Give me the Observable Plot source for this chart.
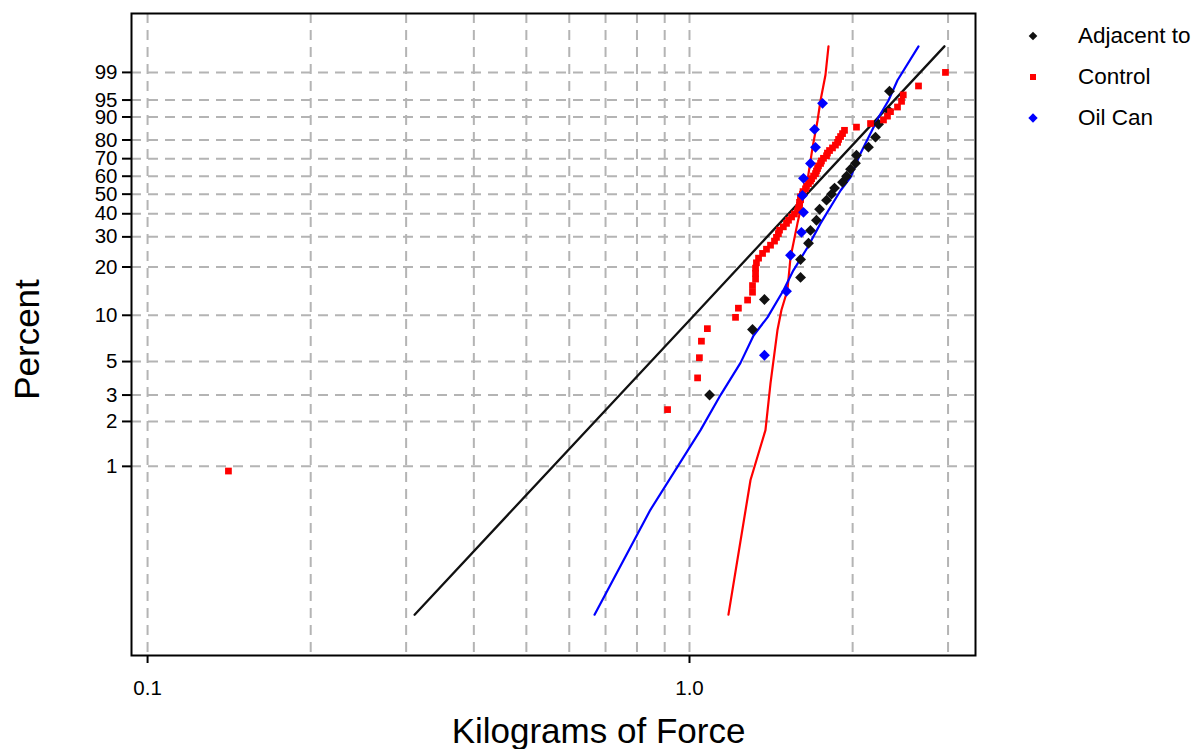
<!DOCTYPE html>
<html>
<head>
<meta charset="utf-8">
<script src="https://cdn.jsdelivr.net/npm/d3@7"></script>
<script src="https://cdn.jsdelivr.net/npm/@observablehq/plot@0.6"></script>
<style>
  html, body { margin: 0; padding: 0; background: #fff; }
  #wrap { position: relative; width: 1196px; height: 749px; font-family: "Liberation Sans", Arial, sans-serif; }
  #legend { position: absolute; left: 1022px; top: 15px; }
  .item { display: flex; align-items: center; height: 41px; font-size: 22.5px; color: #000; }
  .item svg { width: 22px; height: 22px; margin-right: 34px; flex: none; }
</style>
</head>
<body>
<div id="wrap"><div id="legend"></div></div>
<script>
// Weibull probability plot: breaking force (kg) of three groups with fitted lines.

// Adjacent to
const adjacentForce = [1.089, 1.307, 1.375, 1.603, 1.603, 1.658, 1.672, 1.715, 1.738, 1.790, 1.828,
  1.852, 1.916, 1.949, 1.982, 2.024, 2.033, 2.139, 2.204, 2.233, 2.329, 2.339];
const adjacentPct = [3.0, 8.1, 12.6, 17.3, 22.2, 27.6, 32.6, 37.0, 42.2, 46.8, 50.0,
  53.3, 56.6, 60.0, 64.0, 67.4, 71.9, 76.3, 81.4, 87.2, 92.2, 96.8];

// Control
const controlForce = [0.141, 0.911, 1.035, 1.043, 1.052, 1.079, 1.216, 1.231, 1.28, 1.307,
  1.307, 1.324, 1.324, 1.324, 1.329, 1.341, 1.364, 1.387, 1.411, 1.435,
  1.447, 1.459, 1.466, 1.490, 1.510, 1.523, 1.543, 1.562, 1.582, 1.589,
  1.596, 1.596, 1.603, 1.603, 1.616, 1.62, 1.637, 1.644, 1.658, 1.672,
  1.68, 1.694, 1.708, 1.715, 1.723, 1.73, 1.745, 1.752, 1.767, 1.790,
  1.797, 1.813, 1.836, 1.859, 1.876, 1.884, 1.900, 1.916, 1.932, 2.033,
  2.158, 2.28, 2.319, 2.349, 2.42, 2.462, 2.48, 2.646, 2.967];
const controlPct = [0.93, 2.4, 3.9, 5.3, 6.8, 8.2, 9.7, 11.1, 12.5, 14.0,
  15.4, 16.9, 18.3, 19.7, 21.2, 22.6, 24.1, 25.5, 26.9, 28.4,
  29.8, 31.3, 32.7, 34.1, 35.6, 37.0, 38.5, 39.9, 41.4, 42.8,
  44.2, 45.7, 47.1, 48.6, 50.0, 51.4, 52.9, 54.3, 55.8, 57.2,
  58.6, 60.1, 61.5, 63.0, 64.4, 65.9, 67.3, 68.7, 70.2, 71.6,
  73.1, 74.5, 75.9, 77.4, 78.8, 80.3, 81.7, 83.1, 84.6, 86.0,
  87.5, 88.9, 90.3, 91.8, 93.2, 94.7, 96.1, 97.6, 99.0];

// Oil Can
const oilCanForce = [1.375, 1.510, 1.536, 1.609, 1.623, 1.616, 1.623, 1.672, 1.708, 1.701, 1.760];
const oilCanPct = [5.5, 14.2, 23.5, 31.8, 40.7, 49.3, 58.8, 67.3, 76.2, 85.0, 94.2];

// Fitted lines
const adjacentFitForce = [0.311, 1.0, 2.954];
const adjacentFitPct = [0.1, 9.3, 99.9];
const controlFitForce = [1.180, 1.296, 1.381, 1.411, 1.453, 1.478, 1.516, 1.536, 1.582, 1.623, 1.651, 1.687, 1.723, 1.745, 1.782, 1.805];
const controlFitPct = [0.1, 0.81, 1.75, 3.6, 8.0, 10.8, 14.4, 22.8, 35.6, 48.3, 57.6, 76.2, 88.7, 94.9, 98.8, 99.9];
const oilCanFitForce = [0.668, 0.847, 1.048, 1.141, 1.242, 1.313, 1.393, 1.491, 1.555, 1.651, 1.745, 1.900, 1.982, 2.068, 2.233, 2.329, 2.420, 2.646];
const oilCanFitPct = [0.1, 0.51, 1.75, 3.0, 4.9, 7.4, 9.7, 14.4, 19.1, 26.1, 35.6, 52.0, 59.3, 72.9, 89.9, 94.9, 98.3, 99.9];

// Axes
const xDomain = [0.0934, 3.371];
const pctDomain = [0.053, 99.999];
const xGrid = [0.1, 0.2, 0.3, 0.4, 0.5, 0.6, 0.7, 0.8, 0.9, 1, 2, 3];
const xLabels = [0.1, 1];
const yTicks = [1, 2, 3, 5, 10, 20, 30, 40, 50, 60, 70, 80, 90, 95, 99];

const seriesNames = ["Adjacent to", "Control", "Oil Can"];
const seriesColors = ["#111111", "#ff0000", "#0000ff"];

// Weibull probability transform and its inverse
const toW = p => Math.log(-Math.log(1 - p / 100));
const fromW = w => 100 * (1 - Math.exp(-Math.exp(w)));

const pairs = (xs, ps) => xs.map((x, i) => ({x, p: ps[i]}));
const adjacent = pairs(adjacentForce, adjacentPct);
const control = pairs(controlForce, controlPct);
const oilCan = pairs(oilCanForce, oilCanPct);
const adjacentFit = pairs(adjacentFitForce, adjacentFitPct);
const controlFit = pairs(controlFitForce, controlFitPct);
const oilCanFit = pairs(oilCanFitForce, oilCanFitPct);

const yOf = d => toW(d.p);
const gridStyle = {stroke: "#b4b4b4", strokeWidth: 2, strokeDasharray: "10,7", strokeOpacity: 1};

const chart = Plot.plot({
  width: 1196,
  height: 749,
  marginLeft: 131,
  marginRight: 221,
  marginTop: 13,
  marginBottom: 94,
  style: {fontFamily: "'Liberation Sans', Arial, sans-serif", fontSize: "20.5px", color: "#000", background: "transparent"},
  x: {type: "log", domain: xDomain},
  y: {type: "linear", domain: pctDomain.map(toW)},
  marks: [
    Plot.ruleX(xGrid, gridStyle),
    Plot.ruleY(yTicks, {y: toW, ...gridStyle}),
    Plot.axisX(xLabels, {tickSize: 8, tickPadding: 17, strokeWidth: 2, tickFormat: d => d.toFixed(1), label: null, fontSize: 20.5}),
    Plot.axisY(yTicks.map(toW), {tickSize: 9, tickPadding: 5, strokeWidth: 2, tickFormat: w => String(Math.round(fromW(w))), label: null, fontSize: 20.5}),
    Plot.line(adjacentFit, {x: "x", y: yOf, stroke: seriesColors[0], strokeWidth: 2.3}),
    Plot.line(controlFit, {x: "x", y: yOf, stroke: seriesColors[1], strokeWidth: 2.2}),
    Plot.line(oilCanFit, {x: "x", y: yOf, stroke: seriesColors[2], strokeWidth: 2.2}),
    Plot.dot(adjacent, {x: "x", y: yOf, symbol: "diamond2", r: 4.9, fill: seriesColors[0]}),
    Plot.dot(control, {x: "x", y: yOf, symbol: "square", r: 3.8, fill: seriesColors[1]}),
    Plot.dot(oilCan, {x: "x", y: yOf, symbol: "diamond2", r: 4.9, fill: seriesColors[2]}),
    Plot.frame({stroke: "#000", strokeWidth: 2}),
    Plot.text(["Kilograms of Force"], {frameAnchor: "bottom", lineAnchor: "middle", textAnchor: "middle", dx: 45, dy: 76, fontSize: 35, fill: "#000"}),
    Plot.text(["Percent"], {frameAnchor: "left", lineAnchor: "middle", textAnchor: "middle", dx: -104, dy: 5, rotate: -90, fontSize: 35, fill: "#000"})
  ]
});
document.getElementById("wrap").prepend(chart);

// Legend on the right
const legendSymbols = [d3.symbolDiamond2, d3.symbolSquare, d3.symbolDiamond2];
const legendSizes = [48, 36, 56];
const legend = d3.select("#legend");
seriesNames.forEach((name, i) => {
  const item = legend.append("div").attr("class", "item");
  const svg = item.append("svg").attr("viewBox", "-11 -11 22 22");
  svg.append("path").attr("d", d3.symbol(legendSymbols[i], legendSizes[i])()).attr("fill", seriesColors[i]);
  item.append("span").text(name);
});
</script>
</body>
</html>
